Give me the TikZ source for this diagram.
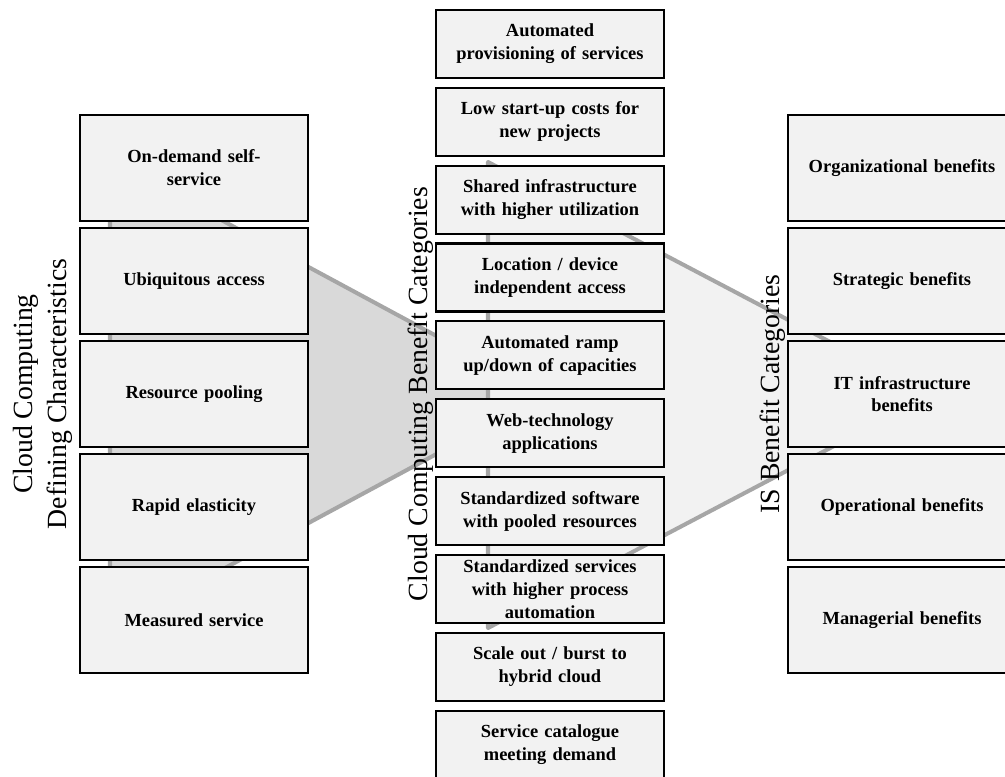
\documentclass[tikz,border=0pt]{standalone}
\usepackage{fontspec}
\setmainfont{Liberation Serif}
\usetikzlibrary{positioning}
\definecolor{boxgray}{HTML}{F2F2F2}
\definecolor{shadegray}{HTML}{D9D9D9}
\definecolor{edgegray}{HTML}{A6A6A6}

\begin{document}
\begin{tikzpicture}[
  x=0.02cm, y=-0.02cm,
  font=\bfseries\fontsize{10.5}{13}\selectfont,
  sidebox/.style={draw=black, line width=1.2pt, fill=boxgray,
                  minimum width=4.56cm, minimum height=2.12cm,
                  text width=4.2cm, align=center, inner sep=0pt},
  midbox/.style={draw=black, line width=1.2pt, fill=boxgray,
                 minimum width=4.56cm, minimum height=1.36cm,
                 text width=4.2cm, align=center, inner sep=0pt},
  funnel/.style={draw=edgegray, line width=2.3pt, line join=round},
  collabel/.style={rotate=90, align=center, font=\mdseries\fontsize{15.8}{19}\selectfont},
]
\useasboundingbox (0,0) rectangle (1005,777);
\clip (0,0) rectangle (1005,777);

% ---- background wedges ----
\filldraw[funnel, fill=shadegray] (110,160) -- (110,630) -- (546,395) -- cycle;
\filldraw[funnel, fill=boxgray] (488,162) -- (488,628) -- (931,395) -- cycle;

% ---- Defining characteristics ----
\node[sidebox] (odss) at (194,168) {On-demand self-\\service};
\node[sidebox, below=0.1cm of odss] (ubiq) {Ubiquitous access};
\node[sidebox, below=0.1cm of ubiq] (pool) {Resource pooling};
\node[sidebox, below=0.1cm of pool] (elas) {Rapid elasticity};
\node[sidebox, below=0.1cm of elas] (meas) {Measured service};

% ---- Cloud computing benefits ----
\node[midbox] (prov) at (550,44) {Automated\\provisioning of services};
\node[midbox, below=0.155cm of prov] (lowcost) {Low start-up costs for\\new projects};
\node[midbox, below=0.155cm of lowcost] (shared) {Shared infrastructure\\with higher utilization};
\node[midbox, below=0.155cm of shared] (locind) {Location / device\\independent access};
\node[midbox, below=0.155cm of locind] (ramp) {Automated ramp\\up/down of capacities};
\node[midbox, below=0.155cm of ramp] (webtech) {Web-technology\\applications};
\node[midbox, below=0.155cm of webtech] (stdsw) {Standardized software\\with pooled resources};
\node[midbox, below=0.155cm of stdsw] (stdsrv) {Standardized services\\with higher process\\automation};
\node[midbox, below=0.155cm of stdsrv] (burst) {Scale out / burst to\\hybrid cloud};
\node[midbox, below=0.155cm of burst] (catal) {Service catalogue\\meeting demand};

% ---- IS benefits ----
\node[sidebox] (orgben) at (902,168) {Organizational benefits};
\node[sidebox, below=0.1cm of orgben] (stratben) {Strategic benefits};
\node[sidebox, below=0.1cm of stratben] (itben) {IT infrastructure\\benefits};
\node[sidebox, below=0.1cm of itben] (operben) {Operational benefits};
\node[sidebox, below=0.1cm of operben] (mgrben) {Managerial benefits};

% ---- column titles ----
\node[collabel] (deflabel) at (43,394) {Cloud Computing\\Defining Characteristics};
\node[collabel] (cclabel) at (421,394) {Cloud Computing Benefit Categories};
\node[collabel] (islabel) at (773,394) {IS Benefit Categories};

\end{tikzpicture}
\end{document}
